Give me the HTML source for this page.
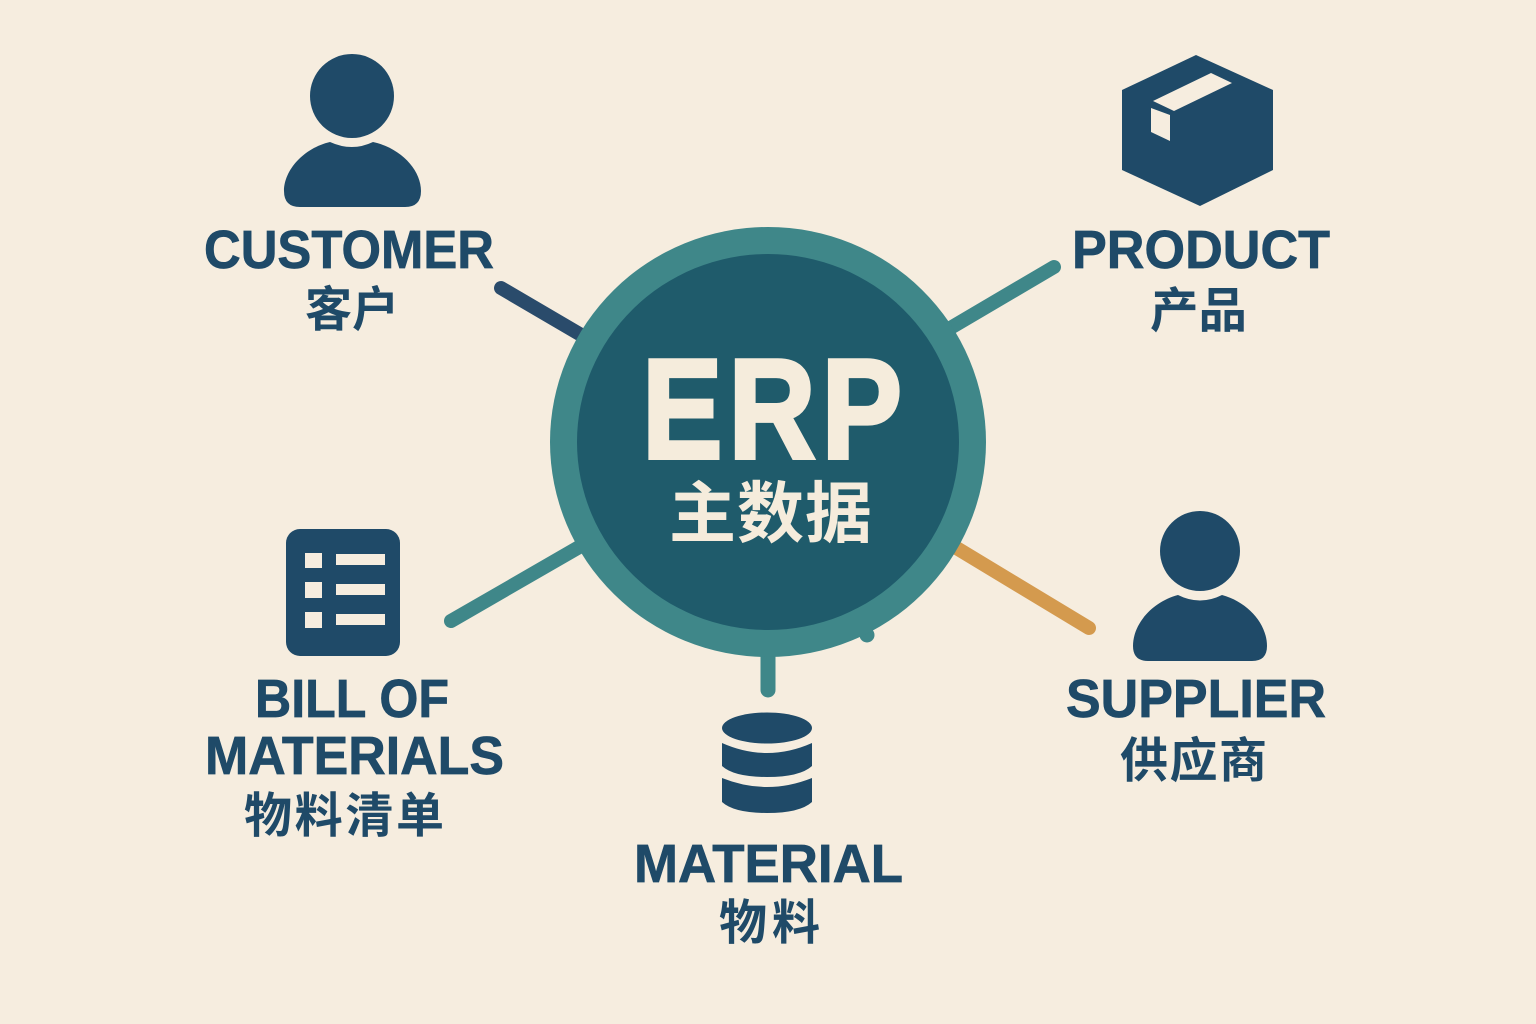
<!DOCTYPE html>
<html><head><meta charset="utf-8"><style>
html,body{margin:0;padding:0;background:#f6eddf;width:1536px;height:1024px;overflow:hidden}
svg{display:block}
.e{font-family:"Liberation Sans",sans-serif;font-weight:700;font-size:54px;fill:#1f4a68;stroke:#1f4a68;stroke-width:.7px}
.c{font-family:"Liberation Sans","Noto Sans CJK SC",sans-serif;font-weight:700;font-size:48px;fill:#1f4a68}
</style></head><body>
<svg width="1536" height="1024" viewBox="0 0 1536 1024" xmlns="http://www.w3.org/2000/svg">
<rect width="1536" height="1024" fill="#f6eddf"/>
<g fill="none" stroke-linecap="round" stroke-width="14">
<line x1="501" y1="288" x2="600" y2="346" stroke="#2a4b6b"/>
<line x1="1054" y1="267" x2="930" y2="340" stroke="#3f8789"/>
<line x1="451" y1="621" x2="600" y2="535" stroke="#3f8789"/>
<line x1="1089" y1="628" x2="940" y2="538" stroke="#d49a4e"/>
<line x1="768" y1="690" x2="768" y2="640" stroke="#3f8789" stroke-width="15"/>
</g>
<circle cx="867" cy="635" r="7.5" fill="#3f8789"/>
<ellipse cx="768" cy="442" rx="218" ry="215" fill="#3f8789"/>
<ellipse cx="768" cy="442" rx="191" ry="188" fill="#1f5b6b"/>
<text transform="translate(642 458) scale(.85 1)" font-family="Liberation Sans,sans-serif" font-weight="700" font-size="142" letter-spacing="7" fill="#f5ecdc" stroke="#f5ecdc" stroke-width="4">ERP</text>
<text x="669" y="537" font-family="Liberation Sans,Noto Sans CJK SC,sans-serif" font-weight="700" font-size="67" fill="#f5ecdc" textLength="203">主数据</text>

<!-- customer icon -->
<circle cx="352" cy="96" r="42" fill="#1f4a68"/>
<path d="M330 142Q352 152 373 142C401 148 421 170 421 191Q421 207 405 207H300Q284 207 284 191C284 170 304 148 330 142Z" fill="#1f4a68"/>
<!-- supplier icon -->
<circle cx="1200" cy="551" r="40" fill="#1f4a68"/>
<path d="M1178 595Q1200 606 1222 595C1248 602 1267 624 1267 646Q1267 661 1252 661H1148Q1133 661 1133 646C1133 624 1152 602 1178 595Z" fill="#1f4a68"/>
<!-- box -->
<polygon points="1196,55 1273,90 1273,170 1200,206 1122,170 1122,90" fill="#1f4a68"/>
<polygon points="1211,73 1232,83 1174,111 1153,101" fill="#f6eddf"/>
<polygon points="1151,108 1170,115 1170,141 1151,132" fill="#f6eddf"/>
<!-- bom -->
<rect x="286" y="529" width="114" height="127" rx="14" fill="#1f4a68"/>
<g fill="#f6eddf">
<rect x="305" y="553" width="17" height="15"/><rect x="336" y="554" width="49" height="11"/>
<rect x="305" y="582" width="17" height="16"/><rect x="336" y="584" width="49" height="11"/>
<rect x="305" y="612" width="17" height="16"/><rect x="336" y="614" width="49" height="11"/>
</g>
<!-- database -->
<ellipse cx="767" cy="728" rx="45" ry="15.5" fill="#1f4a68"/>
<path d="M722 743Q767 763 812 743V766Q800 777 767 777Q734 777 722 766Z" fill="#1f4a68"/>
<path d="M722 778Q767 796 812 778V802Q800 813 767 813Q734 813 722 802Z" fill="#1f4a68"/>

<text class="e" x="204" y="268" textLength="290" lengthAdjust="spacingAndGlyphs">CUSTOMER</text>
<text class="c" x="305" y="326" textLength="94" lengthAdjust="spacingAndGlyphs">客户</text>
<text class="e" x="1072" y="268" textLength="258" lengthAdjust="spacingAndGlyphs">PRODUCT</text>
<text class="c" x="1150" y="327" textLength="97" lengthAdjust="spacingAndGlyphs">产品</text>
<text class="e" x="255" y="717" textLength="194" lengthAdjust="spacingAndGlyphs">BILL OF</text>
<text class="e" x="205" y="774" textLength="299" lengthAdjust="spacingAndGlyphs">MATERIALS</text>
<text class="c" x="244" y="832" textLength="200" lengthAdjust="spacing">物料清单</text>
<text class="e" x="1066" y="717" textLength="260" lengthAdjust="spacingAndGlyphs">SUPPLIER</text>
<text class="c" x="1120" y="777" textLength="147" lengthAdjust="spacing">供应商</text>
<text class="e" x="634" y="882" textLength="269" lengthAdjust="spacingAndGlyphs">MATERIAL</text>
<text class="c" x="719" y="939" textLength="101" lengthAdjust="spacing">物料</text>
</svg>
</body></html>
